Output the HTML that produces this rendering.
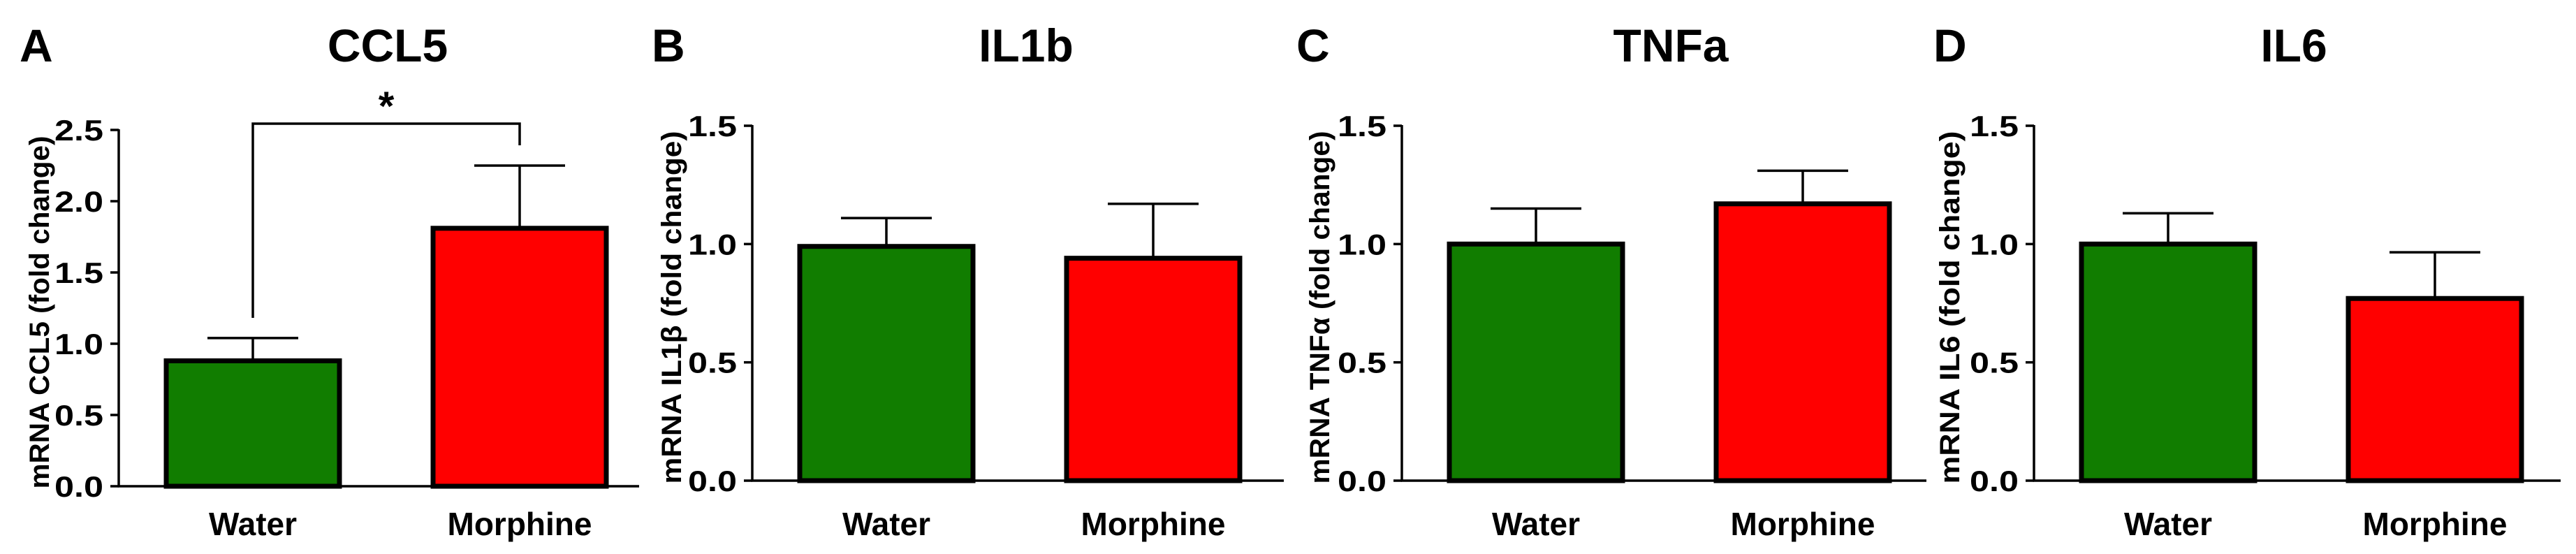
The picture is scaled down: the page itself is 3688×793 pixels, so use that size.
<!DOCTYPE html>
<html><head><meta charset="utf-8"><style>
html,body{margin:0;padding:0;background:#fff;}
svg{display:block;font-family:"Liberation Sans",Arial,sans-serif;font-weight:bold;}
</style></head><body>
<svg id="fig" width="3688" height="793" viewBox="0 0 3688 793" xmlns="http://www.w3.org/2000/svg"></svg>
<script>
const categories = ["Water", "Morphine"];
const panelTitles = ["CCL5", "IL1b", "TNFa", "IL6"];
const panelLetters = ["A", "B", "C", "D"];
const yTitles = ["mRNA CCL5 (fold change)", "mRNA IL1\u03B2 (fold change)", "mRNA TNF\u03B1 (fold change)", "mRNA IL6 (fold change)"];
const meansCCL5 = [0.88, 1.81];
const errCCL5 = [1.04, 2.25];
const meansIL1b = [0.99, 0.94];
const errIL1b = [1.11, 1.17];
const meansTNFa = [1.0, 1.17];
const errTNFa = [1.15, 1.31];
const meansIL6 = [1.0, 0.77];
const errIL6 = [1.13, 0.965];
const ticksCCL5 = [0, 0.5, 1.0, 1.5, 2.0, 2.5];
const ticksOther = [0, 0.5, 1.0, 1.5];

const NS = "http://www.w3.org/2000/svg";
const svg = document.getElementById("fig");
function mk(tag, attrs, parent){ const e=document.createElementNS(NS,tag); for(const k in attrs) e.setAttribute(k,attrs[k]); (parent||svg).appendChild(e); return e; }

const layout = [
  {ax:170, y0:696, yTop:186, end:915, letterX:28, titleX:555, ytX:56},
  {ax:1077, y0:688, yTop:180, end:1838, letterX:933, titleX:1469, ytX:961},
  {ax:2007, y0:688, yTop:180, end:2758, letterX:1856, titleX:2392, ytX:1889},
  {ax:2912, y0:688, yTop:180, end:3666, letterX:2768, titleX:3284, ytX:2791}
];
const means = [meansCCL5, meansIL1b, meansTNFa, meansIL6];
const errs = [errCCL5, errIL1b, errTNFa, errIL6];
const ticks = [ticksCCL5, ticksOther, ticksOther, ticksOther];
const colors = ["#117d00", "#ff0000"];

layout.forEach((L, p) => {
  const g = mk("g", {});
  
  
  const tk = ticks[p];
  const ymax = tk[tk.length-1];
  const y = v => L.y0 - (v / ymax) * (L.y0 - L.yTop);
  const barX = [L.ax + 68, L.ax + 450];
  const bw = 248;

  const letter = mk("text", {x:L.letterX, y:88, "font-size":66}, g);
  letter.textContent = panelLetters[p];
  
  
  const title = mk("text", {x:L.titleX, y:88, "font-size":66, "text-anchor":"middle"}, g);
  title.textContent = panelTitles[p];
  
  

  means[p].forEach((m, i) => {
    const ty = y(m);
    const er = mk("line", {x1:barX[i]+bw/2, x2:barX[i]+bw/2, y1:ty, y2:y(errs[p][i]), stroke:"#000", "stroke-width":3.5}, g);
    
    
    const cap = mk("line", {x1:barX[i]+bw/2-65, x2:barX[i]+bw/2+65, y1:y(errs[p][i]), y2:y(errs[p][i]), stroke:"#000", "stroke-width":3.5}, g);
    
    
    const r = mk("rect", {x:barX[i], y:ty, width:bw, height:L.y0-ty, fill:colors[i], stroke:"#000", "stroke-width":7}, g);
    
    
    const lab = mk("text", {x:barX[i]+bw/2, y:766, "font-size":46, "text-anchor":"middle"}, g);
    lab.textContent = categories[i];
    
    
  });

  const ya = mk("line", {x1:L.ax, x2:L.ax, y1:L.yTop-1, y2:L.y0+1.5, stroke:"#000", "stroke-width":3.5}, g);
  
  
  const xa = mk("line", {x1:L.ax-1.5, x2:L.end, y1:L.y0, y2:L.y0, stroke:"#000", "stroke-width":3.5}, g);
  
  
  tk.forEach(t => {
    const tl = mk("line", {x1:L.ax-12, x2:L.ax, y1:y(t), y2:y(t), stroke:"#000", "stroke-width":3.5}, g);
    
    
    const tt = mk("text", {x:L.ax-22, y:y(t)+15, "font-size":42, "text-anchor":"end", textLength:70, lengthAdjust:"spacingAndGlyphs"}, g);
    tt.textContent = t.toFixed(1);
    
    
  });
  const ycy = (L.y0 + L.yTop) / 2 + 6;
  const yt = mk("text", {x:0, y:0, "font-size":40, "text-anchor":"middle", textLength:505, lengthAdjust:"spacingAndGlyphs", transform:`translate(${L.ytX+14},${ycy}) rotate(-90)`}, g);
  yt.textContent = yTitles[p];
  
  

  if (p === 0) {
    const c0 = barX[0]+bw/2, c1 = barX[1]+bw/2;
    const br = mk("polyline", {points:`${c0},455 ${c0},177 ${c1},177 ${c1},208`, fill:"none", stroke:"#000", "stroke-width":3.5}, g);
    
    
    const st = mk("text", {x:(c0+c1)/2, y:172, "font-size":58, "text-anchor":"middle"}, g);
    st.textContent = "*";
    
    
  }
});
</script>
</body></html>
